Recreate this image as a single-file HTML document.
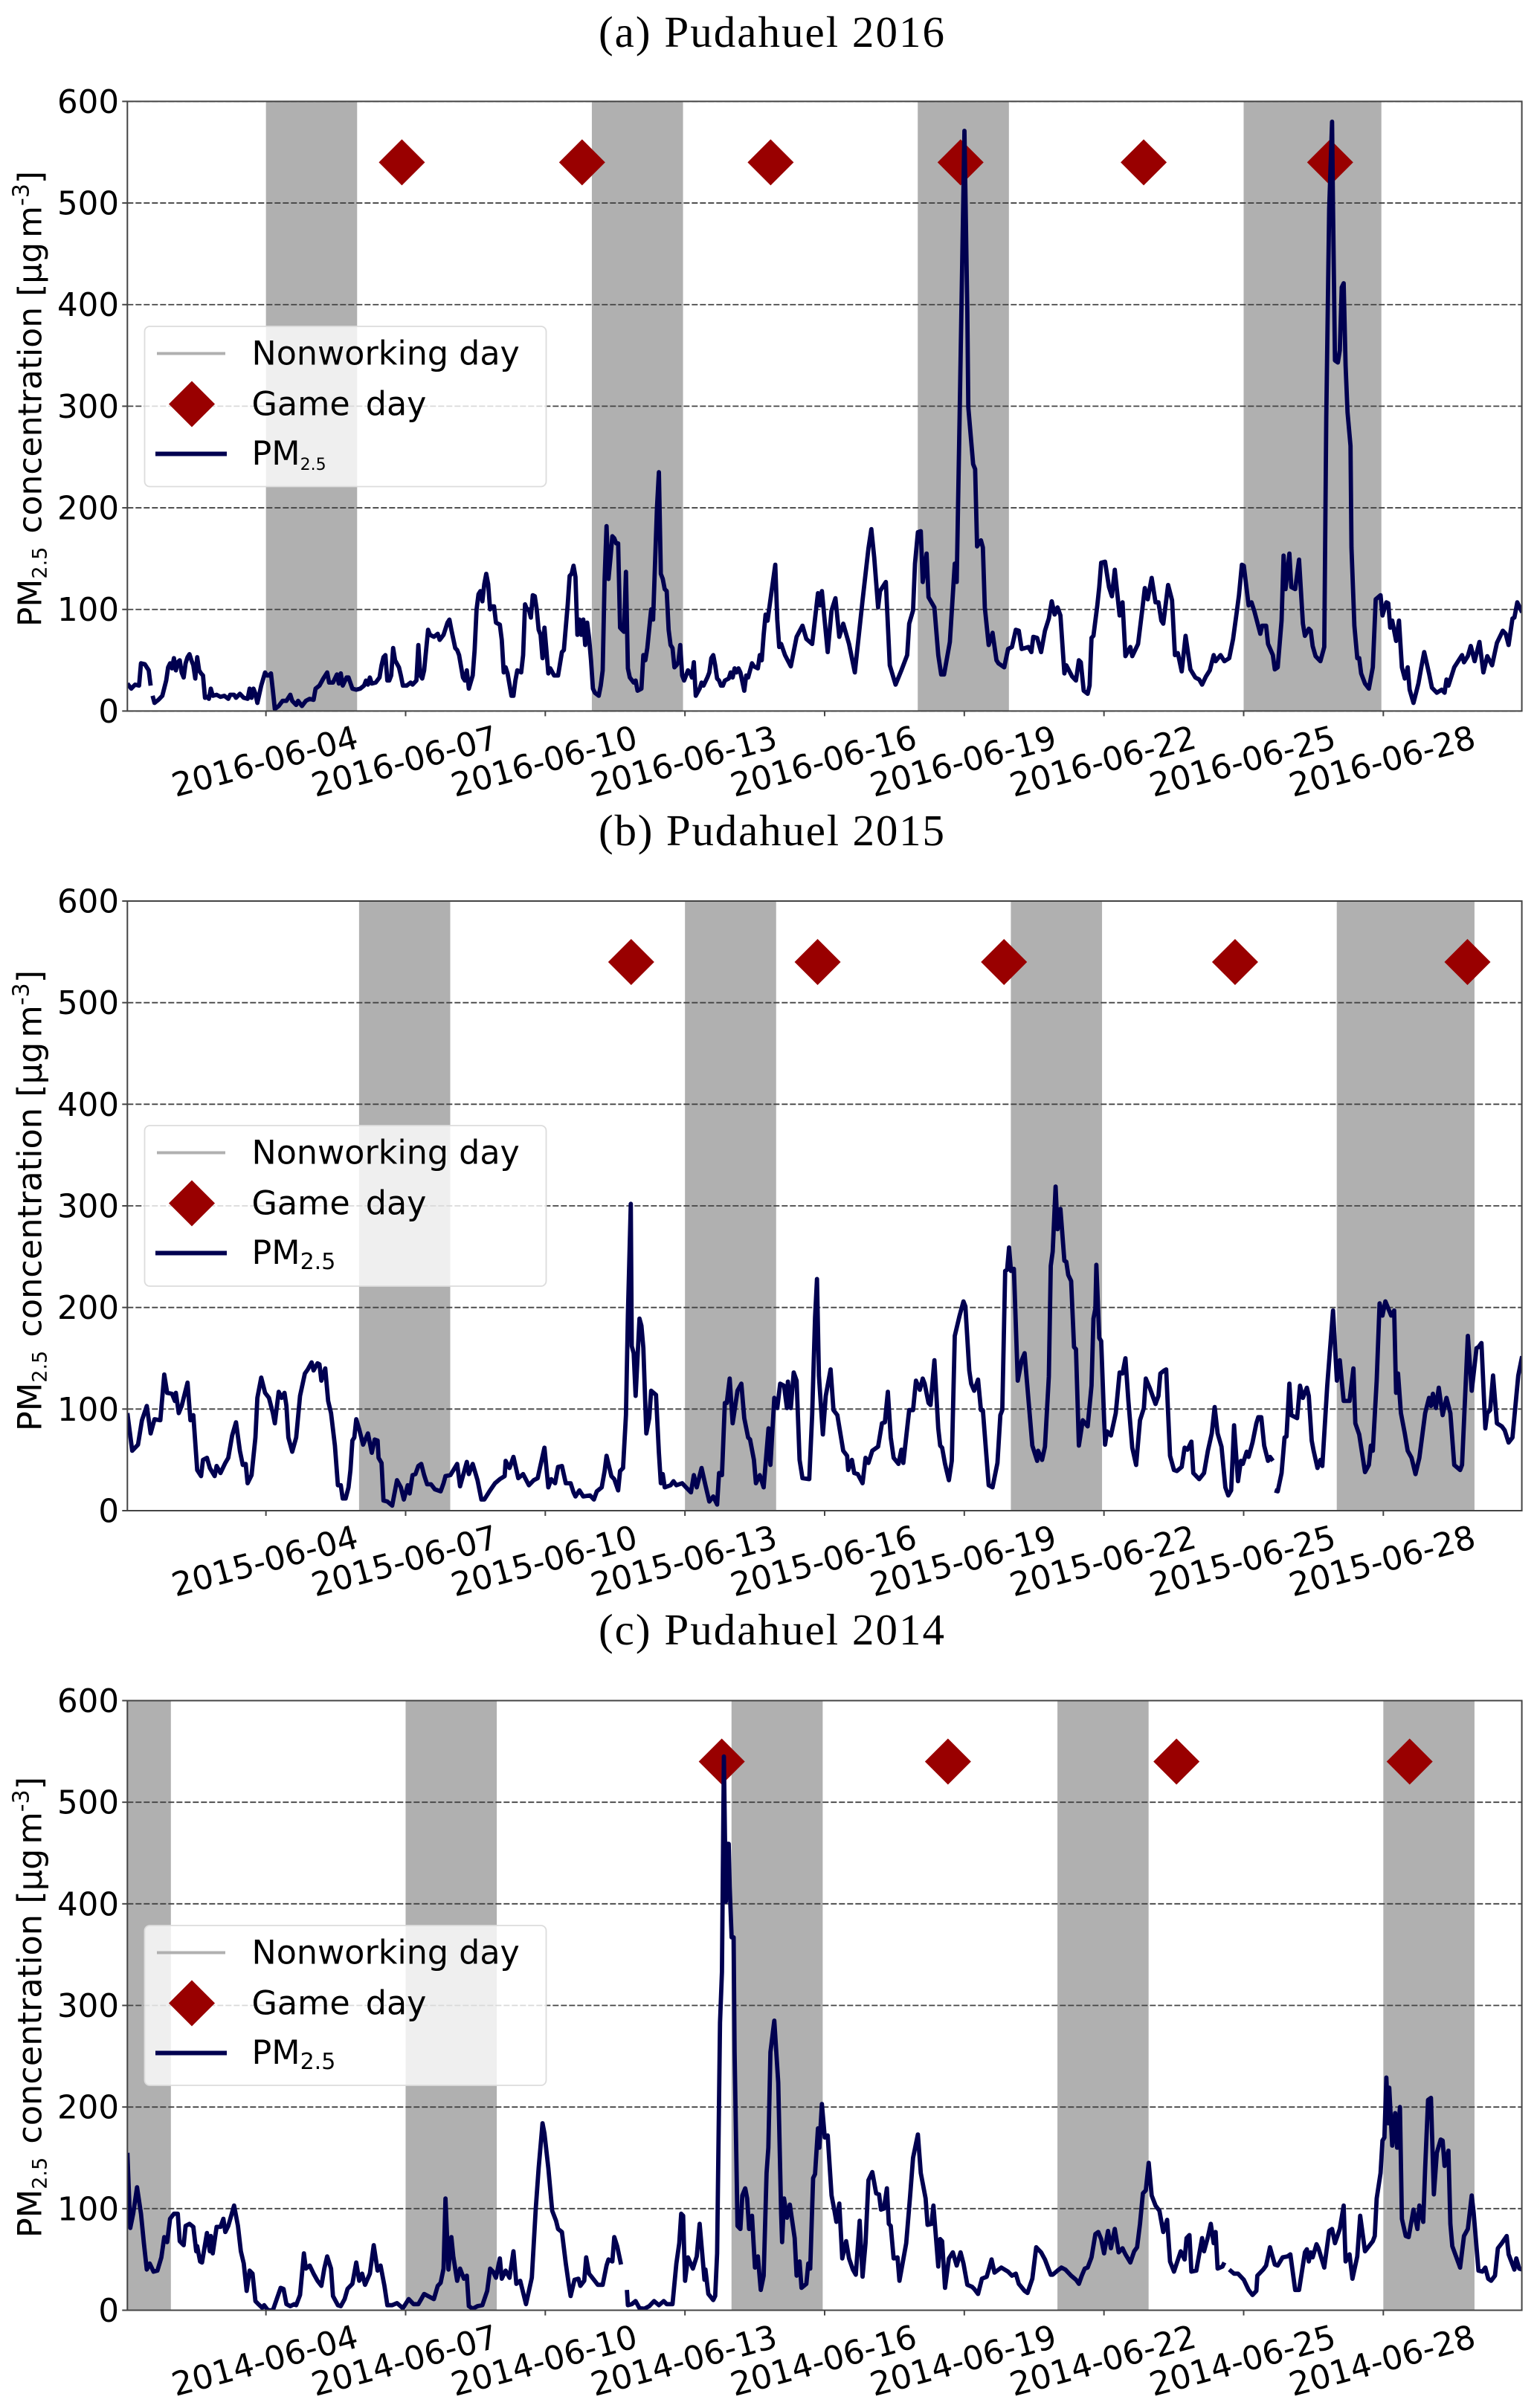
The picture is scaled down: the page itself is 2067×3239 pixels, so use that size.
<!DOCTYPE html>
<html lang="en">
<head>
<meta charset="utf-8">
<title>PM2.5 concentration at Pudahuel, June 2016, 2015 and 2014</title>
<style>
html,body{margin:0;padding:0;background:#fff;width:2067px;height:3239px;overflow:hidden}
svg{display:block}
text{font-family:"DejaVu Sans","Liberation Sans",sans-serif;fill:#000}
.title{font-family:"Liberation Serif",serif;font-size:59px}
</style>
</head>
<body>
<svg id="figure" xmlns="http://www.w3.org/2000/svg" width="2067" height="3239" viewBox="0 0 2067 3239"></svg>
<script>
// ---------- shared axis values ----------
const yTickValues = [0,100,200,300,400,500,600];
const xTickHours = [72,144,216,288,360,432,504,576,648];
const tickLabels2016 = ['2016-06-04','2016-06-07','2016-06-10','2016-06-13','2016-06-16','2016-06-19','2016-06-22','2016-06-25','2016-06-28'];
const tickLabels2015 = ['2015-06-04','2015-06-07','2015-06-10','2015-06-13','2015-06-16','2015-06-19','2015-06-22','2015-06-25','2015-06-28'];
const tickLabels2014 = ['2014-06-04','2014-06-07','2014-06-10','2014-06-13','2014-06-16','2014-06-19','2014-06-22','2014-06-25','2014-06-28'];

// ---------- 2016: hours since June 1 00:00 and PM2.5 values ----------
const spanStarts2016 = [72,240,408,576];
const spanEnds2016 = [119,287,455,647];
const gameHours2016 = [141.5,234.4,331.6,429.5,523.9,620];
const gameValues2016 = [540,540,540,540,540,540];
const hours2016 = [
0,2,4,6,7,9,11,12,12.5,
13,14,16,18,20,21,22,23,24,25,26,27,28,29,30,
31,32,33,34,35,36,37,38,39,40,41,42,43,44,46,
48,50,52,53,55,56,58,60,62,63,64,65,66,67,69,
71,72,73,74,75,76,78,80,82,84,85,87,88,90,92,
94,96,97,99,101,103,104,106,108,109,110,111,113,114,116,
118,120,122,123,124,125,126,128,130,131,132,133,134,135,136,
137,138,140,141,142,144,146,147,149,150,151,152,153,155,156,
158,160,161,163,165,166,167,169,170,171,173,174,175,176,178,
179,180,181,182,183,184,185,186,187,188,189,190,192,193,194,
195,196,198,199,200,201,203,204,205,206,207,208,209,210,211,
212,213,214,215,216,217,218,220,222,224,225,227,228,229,230,
231,232,233,234,235,236,237,238,239,240,241,243,244,245,246,
247,248,249,250,251,252,253,254,255,256,257,258,259,261,262,
263,265,266,267,268,270,271,272,273,274,275,276,277,278,279,
280,281,282,283,284,285,286,287,288,289,290,291,292,293,295,
296,297,299,300,301,302,303,304,305,306,307,308,310,311,312,
313,314,315,316,318,319,320,322,323,325,326,327,328,329,330,
334,335,336,337,339,342,345,348,350,353,356,357,358,361,363,
365,367,369,372,375,379,382,383.5,385,387,388,391,393,396,399,
402,403,405,406,407.5,409,410,412,413,416,418,419.5,421,424,426.5,
427.5,429,431.5,433,433.5,436,437,438,440,441,442,444,446,448,449,
452,454,456,458,459.5,461,464.5,466,467,469,471,473,475,476.5,478,
479.5,481,483,484,487,489,490.5,491.5,493,495,496,497,498,500,501,
502,504,506,507.5,509,511.5,513,514.5,517,518,521,523,524.5,526,528,
530,531.5,533,534,536.5,538.5,540,541.5,543.5,545.5,548,550.5,552.5,554,556,
558,560,561,563.5,565.5,568,570,572,573,574.5,575.5,578,579.5,581,584,
585,587,588,590.5,591.5,593,595,596,597,599,600,602,604,606,607,
609,610,611,612.5,615,617,618,619.5,621,621.5,622.5,624,625,626,627,
628,629,630.5,631,632.5,634,635,636,638,640,642,643.5,646,647,649,
650,651,652,654,655.5,657,658.5,660,661,663,665.5,667,668.5,671,672.5,
675,677.5,679,680,681,684,688,689,691,692.5,694.5,697,699,701,703.5,
706,709,710.5,712,714,715,716.5,719];
const values2016 = [
27,22,26,25,47,46,40,25,null,
15,8,11,15,30,43,47,42,52,40,48,50,38,33,47,
53,56,50,45,32,53,40,37,35,13,14,12,22,15,16,
14,15,12,16,16,13,17,13,12,22,13,22,17,8,25,
38,35,35,37,20,2,5,10,10,16,10,6,10,5,10,
12,11,22,25,32,38,28,28,36,27,37,25,33,33,22,
21,22,25,30,26,33,27,28,33,45,53,55,30,30,35,
62,50,43,35,25,25,28,26,30,65,35,32,40,80,75,
73,76,70,75,87,90,80,62,60,55,33,30,40,22,35,
60,100,115,118,108,125,135,125,100,103,103,87,85,70,38,
43,37,15,15,30,40,38,55,105,100,100,92,114,113,100,
80,75,52,82,60,37,42,35,35,58,60,105,133,135,143,
132,75,90,75,90,65,87,72,50,22,18,15,25,40,130,
182,130,150,172,170,165,165,82,80,78,137,42,33,28,30,
20,22,55,50,62,100,90,145,200,235,135,130,120,118,80,
65,62,43,45,48,65,35,30,35,40,38,33,48,15,22,
28,25,33,38,52,55,45,32,30,25,25,30,32,38,33,
42,38,42,38,20,35,33,47,44,42,55,50,75,95,89,
144,90,63,66,55,44,73,84,71,66,116,104,118,58,99,
111,73,86,66,38,109,160,179,151,102,118,127,45,26,40,
55,86,99,145,176,177,127,155,112,102,55,36,36,68,145,
127,289,571,392,299,243,238,162,168,161,102,65,77,50,47,
43,61,63,80,79,61,63,58,73,72,58,79,91,108,95,
102,94,37,45,34,30,50,48,20,17,25,72,74,104,122,
146,147,122,113,139,94,107,54,63,54,66,97,121,110,131,
107,107,89,86,124,109,55,57,39,74,41,33,31,26,34,
40,55,49,55,49,52,71,99,114,144,143,104,107,98,76,
84,84,66,55,41,43,89,153,120,155,122,120,149,86,74,
81,79,64,54,49,63,289,494,580,494,345,343,355,417,421,
340,294,261,161,84,52,52,37,27,22,43,110,114,94,107,
106,82,89,69,89,43,32,43,21,8,27,43,58,37,23,
18,21,18,31,25,43,55,48,54,64,49,68,38,54,45,
67,79,76,65,91,92,107,97];

// ---------- 2015: hours since June 1 00:00 and PM2.5 values ----------
const spanStarts2015 = [120,288,456,624];
const spanEnds2015 = [167,335,503,695];
const gameHours2015 = [259.7,355.8,451.9,571,690.8];
const gameValues2015 = [540,540,540,540,540];
const hours2015 = [
0,2.5,5.5,7.5,10,12,14,17,19,20.5,23,24.5,25,26.5,28,
31,32.5,34,36,38,39,41,42.5,45,46,48,50.5,52,54,56,
58,59.5,61,62,64,66,67,69,71,73,75,76,78,79.5,81,
82,83,85,87,89,91.5,93,95,96,98,99,100,102,103.5,105,
107,108.5,110,111,112.5,114,115,116,117,118,119.5,121.5,124,126,127.5,
129,129.5,131,132,134,136.5,139,141,142.5,144.5,145.5,147,148.5,150,151.5,
153,154.5,156.5,158.5,161.5,163,164,166.5,170,171.5,175,176,178,180.5,182.5,
184,187,189.5,192,194.5,195,197,199,201.5,204,207,209.5,211.5,213,215,
217,218.5,220.5,222,224,226,228.5,230,231,233,235,238.5,240.5,242,244.5,
246,247,249.5,251,253,254,255.5,257,258,259.5,260,261,262,264,265,
266,267.5,269,270,272.5,274,275,276,277,280,281.5,283,286,288,290.5,
292,293.5,296,298,300,302,304,305,306.5,308,309,310.5,312,314.5,316.5,
318,320,321,323,324,326,328,330.5,331.5,333.5,335,336.5,338.5,340,340.5,
342,343.5,345,346.5,348,351.5,353,354.5,355.5,356.5,358.5,360,362.5,364,366,
369,371,371.6,373.5,374.7,376.5,379,380.5,382,384,387,389,390.5,392,393.5,
395,397.5,399,400,403,405,406.5,408.5,410,411,413,414,416,418,419,
420,421.5,423.5,425,426.5,429,431,432,434,435,436.5,438.5,440,441,444,
446,448.5,450,451,452.5,453.5,454.5,455.5,457,459,461,462.5,463.5,466.5,469,
469.5,471.5,473,475,476,477,478.5,479.5,481,483,484,485,486.5,488,489,
490.5,492.5,495,497,498,499,499.5,501,502,504,505,507,509.5,511.5,513,
514.5,516,518,520,522,524,525,527,530,531.5,532.5,534.5,535.5,537.5,539.5,
541,543.5,545,546.5,548.5,549.5,552.5,555,557,559,560.5,562,564,566,567.5,
569,570.5,572.5,574,575,577,578,580,582,583,584.5,586,588,589,590.5,591,
591.4,593,595,596.5,597.5,599,600,603,604.5,606,608,609,610.5,611.5,613.5,
615,616,618.5,621.5,623.5,625,627,630,632,633,635,638,640,641,642,
644,645.5,647,648.5,651.5,653,654,655,656.5,658.5,660,662,664,666,669,
671,672,673,674.5,676,678,680,682,684,687,688,691,693,695.5,696.5,
698,700,701,702.5,704,706,708.5,710,712,714,717,719];
const values2015 = [
96,59,65,89,103,76,90,89,134,116,115,108,116,96,103,
126,89,94,40,34,50,52,42,34,44,37,47,52,74,87,
59,45,46,27,35,72,111,131,116,111,96,86,117,111,116,
103,72,58,72,113,135,139,146,138,145,144,128,140,108,96,
64,25,25,12,12,23,40,69,72,90,80,65,76,57,70,
69,52,47,10,9,5,30,23,11,25,17,35,36,44,46,
35,26,26,21,19,27,34,35,46,24,48,36,46,30,11,
11,20,27,31,34,49,42,53,32,36,25,30,32,45,62,
23,31,27,43,44,27,27,18,14,20,14,15,11,19,23,
39,54,34,31,20,39,42,94,192,302,162,155,113,189,182,
160,76,91,118,114,57,27,36,23,25,29,25,27,23,18,
35,23,42,25,9,14,6,37,35,106,106,130,86,118,125,
91,72,70,50,27,35,23,81,45,111,101,125,123,101,127,
101,136,128,50,32,31,94,190,228,133,75,113,139,99,94,
59,54,40,50,37,36,27,52,47,59,63,86,87,117,72,
52,46,60,47,99,99,128,119,130,125,106,104,148,81,64,
62,46,30,49,172,192,206,201,138,125,118,129,99,99,25,
23,47,94,99,236,237,259,236,238,128,148,155,132,64,49,
59,50,63,132,241,255,319,277,297,246,245,232,226,161,159,
64,89,83,123,189,199,242,170,167,65,78,74,96,136,135,
150,108,62,45,89,101,130,121,105,113,135,138,139,54,40,
39,43,62,60,68,37,31,37,59,76,102,76,63,23,15,
20,84,29,49,46,58,53,67,86,92,92,64,49,53,49,null,
20,19,37,72,73,125,94,91,123,111,121,113,69,59,42,
50,44,123,197,128,148,108,108,140,86,75,38,45,64,59,
128,204,192,206,192,197,116,135,96,76,59,52,36,52,96,
111,103,115,101,121,94,111,96,45,40,45,172,118,160,161,
165,81,96,99,133,86,83,79,67,72,133,152];

// ---------- 2014: hours since June 1 00:00 and PM2.5 values ----------
const spanStarts2014 = [0,144,312,480,648];
const spanEnds2014 = [23,191,359,527,695];
const gameHours2014 = [306.4,423,540.8,661];
const gameValues2014 = [540,540,540,540];
const hours2014 = [
0,1.5,3,5,7,8.5,10,11.5,13.5,15.5,17.5,19,20.5,22,24,
26,27,29,30,32,34,35.5,36,37.5,38.5,41,42.5,43,44,46,
48,49.5,50.5,52,55,57,58.5,60,61.5,63,64.5,66,67.5,69.5,70.5,
72.5,75,77,79,80.5,82,84,86,87,89,91,92,94,96,98,
100,101.5,103,105,106,108.5,110,112,113.5,116,118,119.5,121,122.5,125,
127,129,130.5,132.5,134,136.5,139,142,145,147.5,150,151.5,153,155,158,
160,161.5,163,164,165.5,167,168,170,171.5,173.5,175,176,178,180.5,183,
185.5,187,188.5,190,192,193,195,197,199,200.5,202.5,205.5,207,208.5,210.5,
212,214,215,217,219,221,222,224,226,227.5,228.5,230.5,232.5,233.5,235.5,
236.5,238,240.5,242.5,245,247,248,250,251,252.5,254.5,256,
257.5,258,260,262,264,266.5,269,271.5,274,276.5,278,281,283,284.5,285.5,
286.5,287.5,289,291.5,293.5,295,297.5,298,299.5,302,303,304,305.5,306.5,307.5,
308.5,309,310,310.5,311.5,312.5,313,314.5,316,317,318.5,319.5,320.5,322,323.5,
325,326.5,328,329.5,330.4,331.5,333.5,335.5,337,337.5,338.5,340,341.5,344,345,
346.5,347.5,350,351,352,353.5,354.5,356,356.7,358,359.5,361,363,364.5,365.5,
367,368.5,370.5,372,374,375.5,377.5,379,380.5,382,384,386,387.5,388.5,390,
391.5,392.5,393.5,395,397,398,401.5,403.5,405,407.5,409,411.5,412.5,414.5,415.5,
418,419,420,421.5,423.5,425.5,427.5,429.5,431,433,435.5,436.5,438.5,440.5,443,
445.5,447,450.5,454,456,458,459.5,462.5,464,466.5,468.5,471,473,476,477,
479.5,481.5,483.5,486.5,489,490.5,492,493.5,495,497,499,500.5,502,503.5,505.5,
507,509,511,513,514.5,517,519,520.5,522,523.5,525,526.5,528,530,532,
534,536,537.5,539.5,543,545,546,547.5,548.5,551,554,555,557,558.5,560,
561,562,564.5,565.5,567,568,570.5,572.5,575.5,578,580,582,582.5,585.5,587,
589,591.5,593,595.5,598,599.5,602,604,607,608,609,610,611,613,614,
617,619.5,621,622.5,625,627,628,630,631.5,634,635.5,638,642,643,644,
646,647,648,649,650,650.5,652,653.5,654.5,656,657,659,660.5,663,665,
666,668,669,670.5,672,673.5,675,677,678,679,681,682,683,687,689,
691,693,694,696.5,698.5,700,701.5,703,705,706.5,708.5,711,712,715,716,717.5,719];
const values2014 = [
155,81,95,121,95,66,40,46,38,39,52,72,67,90,95,
95,68,64,83,85,82,58,63,48,47,76,58,73,56,82,
82,90,77,83,103,83,58,46,19,39,36,9,6,2.5,5,
0,0,11,22,21,6,4,6,5,15,56,41,44,36,29,
24,41,53,41,14,5,4,11,21,26,47,29,36,25,36,
64,39,44,24,5,5,7,2,11,6,6,11,16,14,11,
24,27,41,110,40,72,53,29,41,31,34,4,1.5,4,5,
19,41,38,32,51,31,39,32,58,26,29,6,19,32,100,
140,184,174,140,98,88,80,77,46,26,14,30,31,24,29,
52,36,30,25,25,44,50,48,72,63,45,null,
20,5,6,9,2,1.5,4,9,5,9,6,6,46,66,95,
93,29,52,41,53,85,30,40,16,10,14,56,283,333,545,
402,459,459,417,367,367,254,83,80,113,120,110,80,93,42,
53,20,34,135,160,254,285,224,95,67,110,91,104,71,34,
48,22,26,46,41,130,134,179,160,203,170,172,113,98,87,
105,51,68,51,40,35,88,33,66,128,136,115,114,99,100,
120,85,83,51,52,29,66,113,150,173,135,110,84,85,103,
43,70,68,22,51,57,44,57,46,25,23,21,16,31,33,
50,37,42,38,34,36,26,19,17,31,62,57,50,35,35,
39,42,40,34,30,26,34,41,42,52,75,77,70,56,78,
61,80,57,61,55,47,58,62,85,115,118,145,113,103,98,
77,89,48,38,58,50,71,74,38,39,71,58,72,85,66,
77,41,43,47,null,40,36,36,30,20,15,19,34,40,44,
62,45,44,52,53,55,20,20,57,60,48,57,52,65,61,
42,78,80,66,80,103,48,55,31,53,93,58,68,73,110,
135,167,170,229,184,219,162,194,160,200,90,73,72,99,80,
103,87,140,207,209,114,155,168,167,142,157,85,63,42,73,
80,113,96,39,38,42,31,29,34,61,66,73,55,40,51,41,40];

// ---------- layout (pixels) ----------
const plotLeft = 171.3, plotRight = 2046.6, plotHeight = 820;
const hourMin = 0.57, hourMax = 719.4, valueMax = 600;
const seriesHourOffset = 0.57;
const svg = document.getElementById('figure');
const NS = 'http://www.w3.org/2000/svg';

function make(tag, attrs, parent, text) {
  const el = document.createElementNS(NS, tag);
  for (const k in attrs) el.setAttribute(k, attrs[k]);
  if (text !== undefined) el.textContent = text;
  (parent || svg).appendChild(el);
  return el;
}
function xAxis(hour) { return plotLeft + (hour - hourMin) / (hourMax - hourMin) * (plotRight - plotLeft); }
function diamondPoints(cx, cy, r) { return [cx, cy - r, cx + r, cy, cx, cy + r, cx - r, cy].join(','); }

function drawPanel(cfg) {
  const top = cfg.top, bottom = cfg.top + plotHeight;
  const yAxis = v => bottom - v / valueMax * plotHeight;
  const g = make('g', {});
  
  

  const title = make('text', {x: 1037.5, y: cfg.titleY, 'text-anchor': 'middle', class: 'title', textLength: 465}, g, cfg.title);
  
  

  const clipId = 'clip-' + cfg.year;
  const defs = make('defs', {}, g);
  const clip = make('clipPath', {id: clipId}, defs);
  make('rect', {x: plotLeft, y: top, width: plotRight - plotLeft, height: plotHeight}, clip);

  const bg = make('rect', {x: plotLeft, y: top, width: plotRight - plotLeft, height: plotHeight, fill: '#fff'}, g);
  
  

  cfg.spanStarts.forEach((s, i) => {
    const r = make('rect', {x: xAxis(s), y: top, width: xAxis(cfg.spanEnds[i]) - xAxis(s), height: plotHeight, fill: '#b0b0b0', 'clip-path': 'url(#' + clipId + ')'}, g);
    
    
  });

  yTickValues.forEach(v => {
    const y = yAxis(v);
    const line = make('line', {x1: plotLeft, x2: plotRight, y1: y, y2: y, stroke: '#444', 'stroke-width': 1.8, 'stroke-dasharray': '8 3'}, g);
    
    
    const tick = make('line', {x1: plotLeft - 7, x2: plotLeft, y1: y, y2: y, stroke: '#444', 'stroke-width': 2}, g);
    
    
    const lab = make('text', {x: 160, y: y + 15.5, 'text-anchor': 'end', 'font-size': 43.5}, g, String(v));
    
    
  });

  cfg.gameHours.forEach((h, i) => {
    const d = make('polygon', {points: diamondPoints(xAxis(h + seriesHourOffset), yAxis(cfg.gameValues[i]), 31), fill: '#990000'}, g);
    
    
  });

  let path = '', pen = false;
  cfg.hours.forEach((h, i) => {
    const v = cfg.values[i];
    if (v === null || v === undefined) { pen = false; return; }
    path += (pen ? 'L' : 'M') + xAxis(h + seriesHourOffset).toFixed(1) + ' ' + yAxis(v).toFixed(1);
    pen = true;
  });
  const series = make('path', {d: path, fill: 'none', stroke: '#000050', 'stroke-width': 5.8, 'stroke-linejoin': 'round', 'clip-path': 'url(#' + clipId + ')'}, g);
  
  

  xTickHours.forEach((h, i) => {
    const x = xAxis(h);
    const tick = make('line', {x1: x, x2: x, y1: bottom, y2: bottom + 7, stroke: '#444', 'stroke-width': 2}, g);
    
    
    const cx = x - 1.5, cy = bottom + 68;
    const lab = make('text', {x: cx, y: cy + 15, 'text-anchor': 'middle', 'font-size': 44.2, transform: 'rotate(-15 ' + cx + ' ' + cy + ')'}, g, cfg.tickLabels[i]);
    
    
  });

  const frame = make('rect', {x: plotLeft, y: top, width: plotRight - plotLeft, height: plotHeight, fill: 'none', stroke: '#444', 'stroke-width': 2}, g);
  
  

  // y-axis title
  const yLabel = make('text', {transform: 'translate(55.5 ' + cfg.yLabelCenter + ') rotate(-90)', 'text-anchor': 'middle', 'font-size': cfg.yLabelFont}, g);
  
  
  make('tspan', {}, yLabel, 'PM');
  make('tspan', {'font-size': 27, dy: 7}, yLabel, '2.5');
  make('tspan', {dy: -7, dx: 18}, yLabel, 'concentration [µg');
  make('tspan', {dx: 6}, yLabel, 'm');
  make('tspan', {'font-size': 30, dy: -17}, yLabel, '-3');
  make('tspan', {dy: 17}, yLabel, ']');

  // legend
  const lt = cfg.legendTop, lh = cfg.legendHeight;
  const legend = make('g', {}, g);
  
  
  make('rect', {x: 194.5, y: lt, width: 540, height: lh, rx: 7, fill: '#fff', 'fill-opacity': 0.8, stroke: '#dcdcdc', 'stroke-width': 1.8}, legend);
  const l1 = make('line', {x1: 211, x2: 303, y1: lt + 36.5, y2: lt + 36.5, stroke: '#b0b0b0', 'stroke-width': 4}, legend);
  
  
  const t1 = make('text', {x: 338.5, y: lt + 51.5, 'font-size': 44.4}, legend, 'Nonworking day');
  
  
  const l2 = make('polygon', {points: diamondPoints(258, lt + 104.5, 31), fill: '#990000'}, legend);
  
  
  const t2 = make('text', {x: 338.5, y: lt + 119.5, 'font-size': 44.4, 'word-spacing': 7}, legend, 'Game day');
  
  
  const l3 = make('line', {x1: 209, x2: 305, y1: lt + 171.5, y2: lt + 171.5, stroke: '#000050', 'stroke-width': 6}, legend);
  
  
  const t3 = make('text', {x: 338.5, y: lt + 186, 'font-size': 44.4}, legend);
  
  
  make('tspan', {}, t3, 'PM');
  make('tspan', {'font-size': cfg.legendSub, dy: 7}, t3, '2.5');
}

drawPanel({year: 2016, title: '(a) Pudahuel 2016', titleY: 63, top: 136.4, yLabelCenter: 536.5, yLabelFont: 44, legendTop: 439, legendHeight: 215.5, legendSub: 22,
  hours: hours2016, values: values2016, spanStarts: spanStarts2016, spanEnds: spanEnds2016, gameHours: gameHours2016, gameValues: gameValues2016, tickLabels: tickLabels2016});
drawPanel({year: 2015, title: '(b) Pudahuel 2015', titleY: 1137, top: 1212, yLabelCenter: 1615, yLabelFont: 44.6, legendTop: 1514, legendHeight: 216, legendSub: 30,
  hours: hours2015, values: values2015, spanStarts: spanStarts2015, spanEnds: spanEnds2015, gameHours: gameHours2015, gameValues: gameValues2015, tickLabels: tickLabels2015});
drawPanel({year: 2014, title: '(c) Pudahuel 2014', titleY: 2212, top: 2287.5, yLabelCenter: 2700, yLabelFont: 44.6, legendTop: 2590, legendHeight: 215, legendSub: 30,
  hours: hours2014, values: values2014, spanStarts: spanStarts2014, spanEnds: spanEnds2014, gameHours: gameHours2014, gameValues: gameValues2014, tickLabels: tickLabels2014});
</script>
</body>
</html>
